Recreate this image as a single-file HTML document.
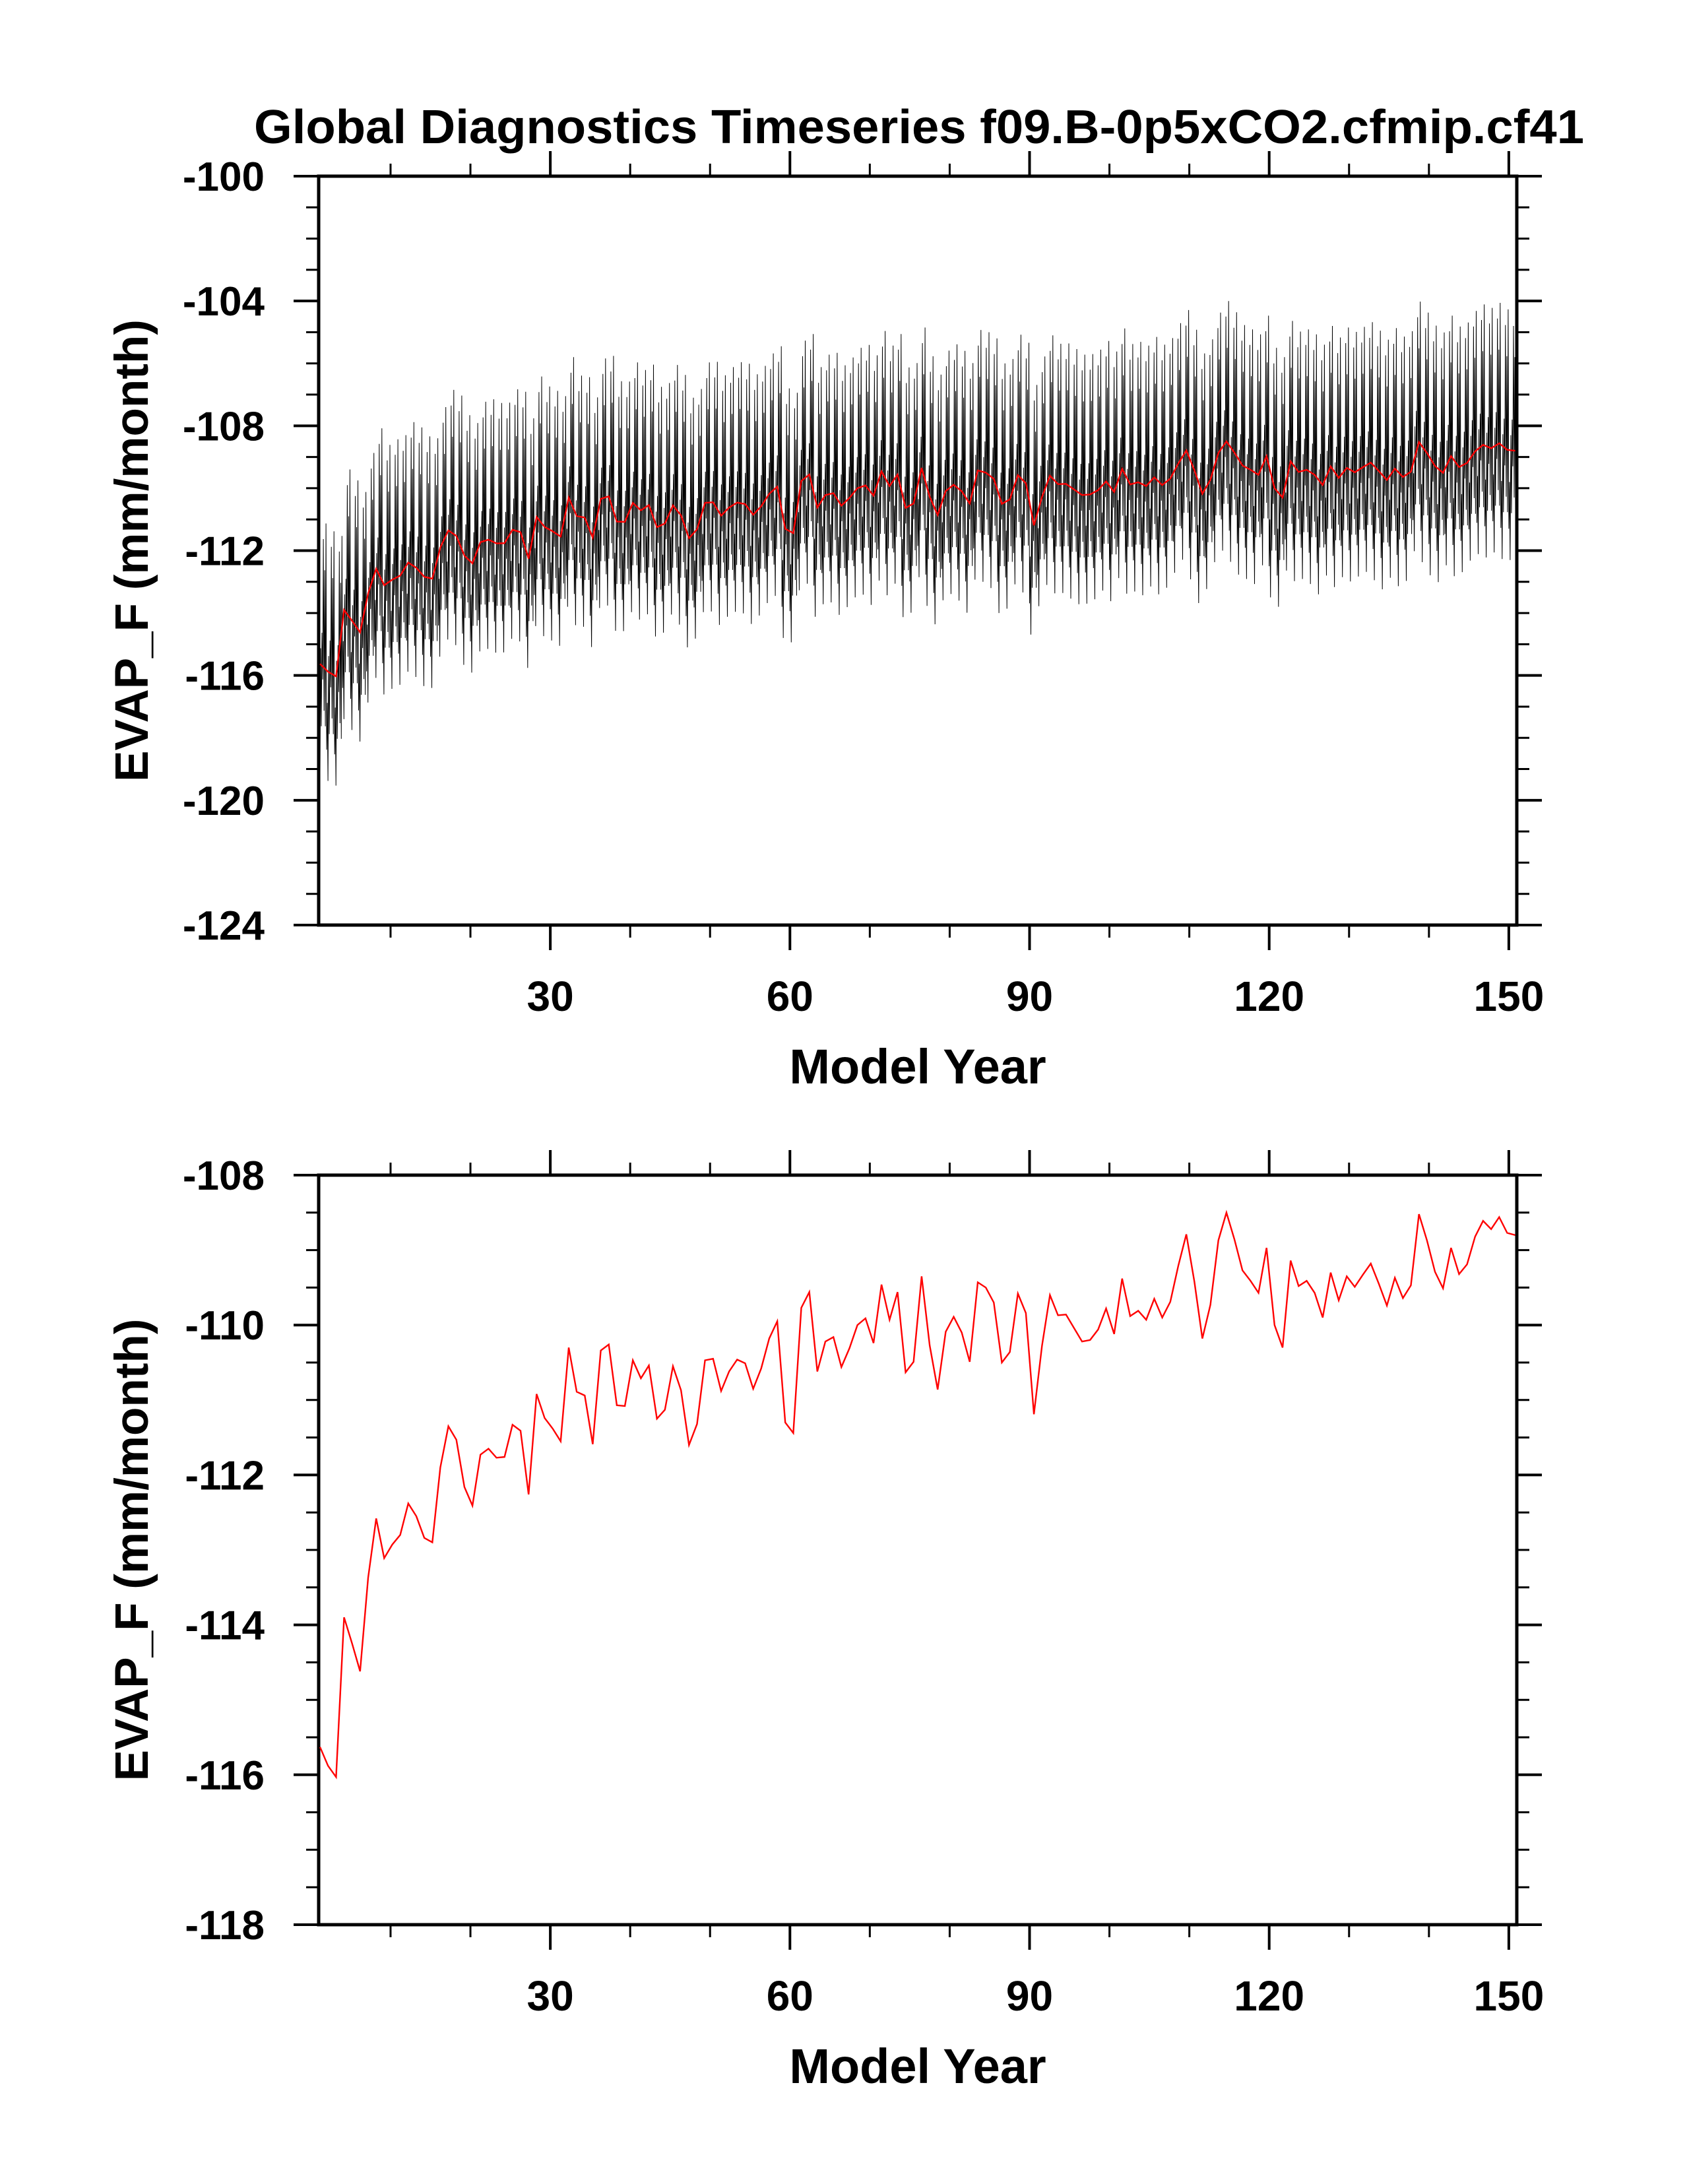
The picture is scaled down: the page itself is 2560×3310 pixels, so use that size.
<!DOCTYPE html>
<html><head><meta charset="utf-8"><style>
html,body{margin:0;padding:0;background:#fff;}
svg{display:block;font-family:"Liberation Sans",Arial,sans-serif;font-weight:bold;}
</style></head><body>
<svg id="chart" width="2560" height="3310" viewBox="0 0 2560 3310" xmlns="http://www.w3.org/2000/svg">
<rect width="2560" height="3310" fill="#fff"/>
<text x="1393" y="217" font-size="72" text-anchor="middle" textLength="2016" lengthAdjust="spacingAndGlyphs">Global Diagnostics Timeseries f09.B-0p5xCO2.cfmip.cf41</text>
<g id="p1"></g>
<g id="p2"></g>
</svg>
<script>
const annualMeans = [
-115.63,-115.88,-116.03,-113.90,-114.25,-114.62,-113.37,-112.58,-113.11,-112.93,
-112.80,-112.38,-112.55,-112.84,-112.90,-111.90,-111.35,-111.53,-112.16,-112.41,
-111.73,-111.65,-111.77,-111.76,-111.33,-111.41,-112.26,-110.92,-111.24,-111.38,
-111.55,-110.30,-110.89,-110.94,-111.59,-110.34,-110.26,-111.07,-111.08,-110.47,
-110.71,-110.54,-111.25,-111.13,-110.55,-110.87,-111.60,-111.32,-110.47,-110.45,
-110.88,-110.62,-110.46,-110.51,-110.85,-110.58,-110.18,-109.95,-111.30,-111.44,
-109.77,-109.56,-110.62,-110.22,-110.16,-110.56,-110.31,-110.00,-109.91,-110.24,
-109.46,-109.93,-109.56,-110.63,-110.49,-109.35,-110.27,-110.86,-110.09,-109.89,
-110.10,-110.49,-109.43,-109.50,-109.70,-110.50,-110.36,-109.58,-109.84,-111.19,
-110.28,-109.60,-109.87,-109.86,-110.04,-110.22,-110.20,-110.06,-109.78,-110.12,
-109.38,-109.88,-109.81,-109.93,-109.65,-109.90,-109.69,-109.21,-108.79,-109.42,
-110.18,-109.73,-108.87,-108.50,-108.86,-109.27,-109.41,-109.57,-108.97,-110.00,
-110.30,-109.14,-109.48,-109.41,-109.57,-109.90,-109.30,-109.67,-109.35,-109.49,
-109.33,-109.18,-109.45,-109.74,-109.37,-109.64,-109.47,-108.52,-108.87,-109.29,
-109.51,-108.97,-109.32,-109.19,-108.82,-108.61,-108.72,-108.56,-108.77,-108.80];
const seasonalCycle = [-2.5,-1.0,-3.5,0.5,-2.0,1.0,-0.5,4.0,-1.5,3.0,-2.0,4.5];
const xTickLabels = ["30","60","90","120","150"];
const xTickYears = [30,60,90,120,150];
const topYTicks = [-124,-120,-116,-112,-108,-104,-100];
const botYTicks = [-118,-116,-114,-112,-110,-108];

const NS="http://www.w3.org/2000/svg";
function mk(tag,attrs,parent){const e=document.createElementNS(NS,tag);for(const k in attrs)e.setAttribute(k,attrs[k]);parent.appendChild(e);return e;}

function panel(g,top,bottom,ymin,ymax,major,minor,yTicks,name){
  const L=483,R=2299,xmin=1,xmax=151;
  const xs=v=>L+(v-xmin)/(xmax-xmin)*(R-L);
  const ys=v=>bottom-(v-ymin)/(ymax-ymin)*(bottom-top);
  const ax=mk('g',{},g);
  
  
  for(let yr=10;yr<=150;yr+=10){
    const x=xs(yr); const len=(yr%30===0)?38:19; const w=(yr%30===0)?4:3;
    mk('line',{x1:x,y1:bottom,x2:x,y2:bottom+len,stroke:'#000','stroke-width':w},ax);
    mk('line',{x1:x,y1:top,x2:x,y2:top-len,stroke:'#000','stroke-width':w},ax);
  }
  const n=Math.round((ymax-ymin)/minor);
  for(let i=0;i<=n;i++){
    const v=ymin+i*minor; const y=ys(v);
    const isMaj=Math.abs((v-ymin)/major-Math.round((v-ymin)/major))<1e-6;
    const len=isMaj?38:19,w=isMaj?4:3;
    mk('line',{x1:L,y1:y,x2:L-len,y2:y,stroke:'#000','stroke-width':w},ax);
    mk('line',{x1:R,y1:y,x2:R+len,y2:y,stroke:'#000','stroke-width':w},ax);
  }
  mk('rect',{x:L,y:top,width:R-L,height:bottom-top,fill:'none',stroke:'#000','stroke-width':5},ax);
  yTicks.forEach(v=>{
    const t=mk('text',{x:401,y:ys(v)+22,'font-size':62,'text-anchor':'end'},ax);
    t.textContent=String(v);
    
    
  });
  xTickYears.forEach((v,i)=>{
    const t=mk('text',{x:xs(v),y:bottom+130,'font-size':64,'text-anchor':'middle'},ax);
    t.textContent=xTickLabels[i];
    
    
  });
  const xt=mk('text',{x:(L+R)/2,y:bottom+240,'font-size':74,'text-anchor':'middle'},ax);
  xt.textContent='Model Year';
  
  
  const cy=(top+bottom)/2;
  const yt=mk('text',{x:224,y:cy,'font-size':71,'text-anchor':'middle',transform:`rotate(-90 224 ${cy})`},ax);
  yt.textContent='EVAP_F (mm/month)';
  
  
  return {xs,ys};
}
function annualTime(i){return 1.17+i*(149.63/149);}

const g1=document.getElementById('p1');
const s1=panel(g1,267,1402,-124,-100,4,1,topYTicks,'monthly-panel');
let d='';
annualMeans.forEach((a,i)=>{
  seasonalCycle.forEach((s,m)=>{
    const t=1+i+m/12;
    d+=(d?'L':'M')+s1.xs(t).toFixed(1)+' '+s1.ys(a+s).toFixed(1);
  });
});
const ml=mk('path',{d:d,fill:'none',stroke:'#000','stroke-width':1},g1);


const r1=mk('path',{d:annualMeans.map((v,i)=>(i?'L':'M')+s1.xs(annualTime(i)).toFixed(1)+' '+s1.ys(v).toFixed(1)).join(''),fill:'none',stroke:'#f00','stroke-width':2.4},g1);



const g2=document.getElementById('p2');
const s2=panel(g2,1781,2917,-118,-108,2,0.5,botYTicks,'annual-panel');
const r2=mk('path',{d:annualMeans.map((v,i)=>(i?'L':'M')+s2.xs(annualTime(i)).toFixed(1)+' '+s2.ys(v).toFixed(1)).join(''),fill:'none',stroke:'#f00','stroke-width':2.4},g2);


</script>
</body></html>
